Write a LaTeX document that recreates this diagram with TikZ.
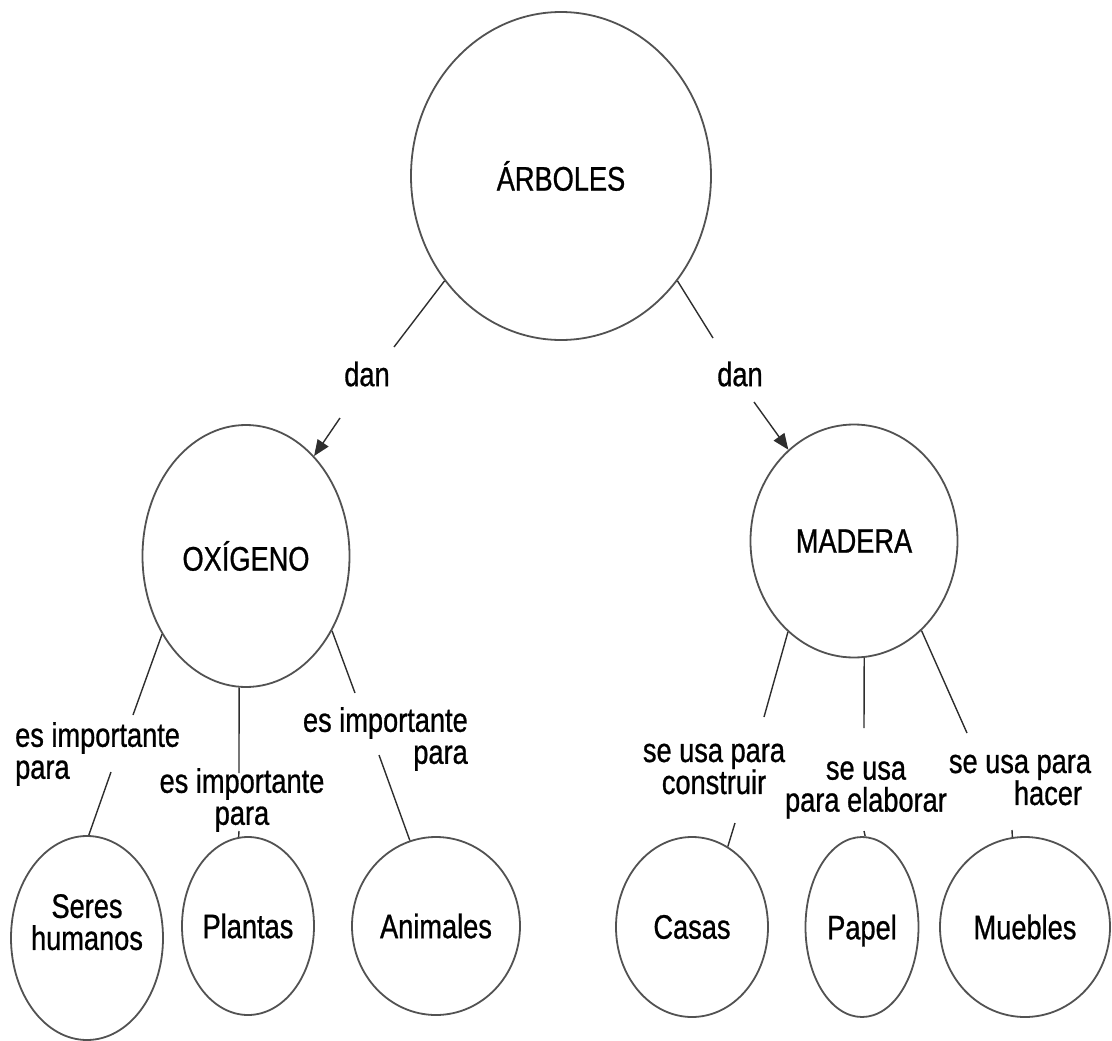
\documentclass[tikz,border=0pt]{standalone}
\usepackage{fontspec}
\setmainfont{Liberation Sans}[FakeStretch=0.8,UprightFeatures={FakeBold=0.8}]
\usetikzlibrary{shapes.geometric,arrows.meta}
\newcommand{\cmapfont}{\fontsize{34pt}{32pt}\selectfont}
\begin{document}
\begin{tikzpicture}[x=1pt,y=-1pt,
  concept/.style={ellipse, draw=black!68, line width=1.8pt, inner sep=-60pt, font=\cmapfont, text=black},
  linklabel/.style={inner sep=0pt, font=\cmapfont, text=black},
  conn/.style={draw=black!82, line width=1.4pt},
  arr/.style={conn, -{Triangle[length=16pt,width=13pt]}}]
\useasboundingbox (0,0) rectangle (1112,1041);

% concepts
\node[concept, minimum width=300pt, minimum height=328pt] (arb) at (561,176) {ÁRBOLES};
\node[concept, minimum width=207pt, minimum height=262pt] (oxi) at (246,556) {OXÍGENO};
\node[concept, minimum width=207pt, minimum height=233pt] (mad) at (854,541) {MADERA};
\node[concept, minimum width=152pt, minimum height=204pt, align=center] (ser) at (87,938) {Seres\\humanos\\\mbox{}};
\node[concept, minimum width=132pt, minimum height=178pt] (pla) at (248,926) {Plantas};
\node[concept, minimum width=168pt, minimum height=178pt] (ani) at (436,926) {Animales};
\node[concept, minimum width=152pt, minimum height=180pt] (cas) at (692,927) {Casas};
\node[concept, minimum width=113pt, minimum height=180pt, text depth=0pt] (pap) at (862,927) {Papel};
\node[concept, minimum width=170pt, minimum height=180pt] (mue) at (1025,927) {Muebles};

% link labels
\node[linklabel] (d1) at (367,374) {dan};
\node[linklabel] (d2) at (740,374) {dan};
\node[linklabel, align=left, anchor=west] (l1) at (15,754) {es importante\\para};
\node[linklabel, align=center] (l2) at (242,800) {es importante\\para};
\node[linklabel, align=right, anchor=east] (l3) at (468,739) {es importante\\para};
\node[linklabel, align=center] (l4) at (714,769) {se usa para\\construir};
\node[linklabel, align=center] (l5) at (866,790) {se usa\\para elaborar};
\node[linklabel, align=center] (l6) at (1020,780) {se usa para\\\hspace*{56pt}hacer};

% connector break points
\coordinate (a1) at (394,347); \coordinate (a2) at (340,418);
\coordinate (b1) at (713,338); \coordinate (b2) at (754,402);
\coordinate (s1) at (133,715); \coordinate (s2) at (111,772);
\coordinate (p1) at (239,773); \coordinate (p2) at (239,831);
\coordinate (n1) at (355,693); \coordinate (n2) at (379,755);
\coordinate (c1) at (764,717); \coordinate (c2) at (735,823);
\coordinate (q1) at (864,728); \coordinate (q2) at (864,831);
\coordinate (m1) at (967,733); \coordinate (m2) at (1012,830);

% connectors
\draw[conn] (arb.-138) -- (a1);
\draw[arr] (a2) -- (oxi);
\draw[conn] (arb.-42) -- (b1);
\draw[arr] (b2) -- (mad);
\draw[conn] (oxi.-137.5) -- (s1);
\draw[conn] (s2) -- (ser.89);
\draw[conn] (oxi.-93) -- (p1);
\draw[conn] (p2) -- (pla.96);
\draw[conn] (oxi.-41.5) -- (n1);
\draw[conn] (n2) -- (ani.107);
\draw[conn] (mad.-126) -- (c1);
\draw[conn] (c2) -- (cas.66);
\draw[conn] (mad.-85) -- (q1);
\draw[conn] (q2) -- (pap.88);
\draw[conn] (mad.-53.5) -- (m1);
\draw[conn] (m2) -- (mue.98);
\end{tikzpicture}
\end{document}
